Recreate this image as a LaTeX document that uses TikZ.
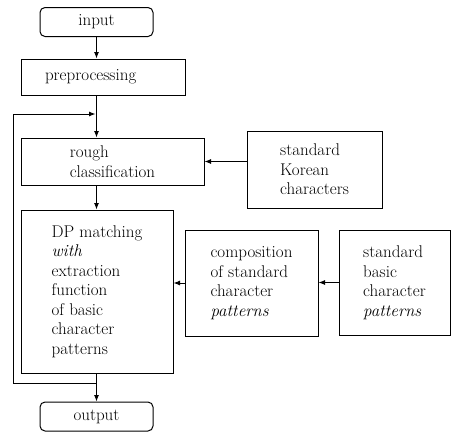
\documentclass[tikz,border=0pt]{standalone}
\usepackage{amsmath}
\usepackage{fontspec}
\usepackage{tikz}
\usetikzlibrary{arrows.meta}

\begin{document}
\begin{tikzpicture}[
    x=1pt, y=-1pt,
    >={Latex[length=6.5pt,width=5pt]},
    every node/.style={font=\fontsize{17}{19.5}\selectfont},
    box/.style={rectangle, draw, line width=1pt, align=left, inner ysep=2pt},
    term/.style={rectangle, draw, rounded corners=5pt, line width=1pt, minimum width=113pt, minimum height=29pt, align=center},
    flow/.style={->, line width=1pt}
]
    \useasboundingbox (0,0) rectangle (454,437);

    % Terminals
    \node[term] (input) at (96.5,22) {input};
    \node[term] (output) at (96.5,416.5) {output};

    % Main column
    \node[box, text width=116pt, inner xsep=24pt, minimum height=36pt] (prep) at (103,77) {preprocessing};
    \node[box, minimum width=183pt, minimum height=47pt] (rough) at (112.5,161.5) {rough\\classification};
    \node[box, minimum width=152pt, minimum height=163pt] (dp) at (97,291.5) {DP matching\\\textit{with}\\extraction\\function\\of basic\\character\\patterns};

    % Reference patterns
    \node[box, minimum width=135pt, minimum height=77pt] (korean) at (314.5,169.5) {standard\\Korean\\characters};
    \node[box, minimum width=133pt, minimum height=106pt] (comp) at (251.5,283) {composition\\of standard\\character\\\textit{patterns}};
    \node[box, minimum width=111pt, minimum height=105pt] (basic) at (394.5,282.5) {standard\\basic\\character\\\textit{patterns}};

    % Loop points
    \coordinate (merge) at (96.5,114);
    \coordinate (split) at (96.5,383);

    % Arrows
    \draw[flow] (input.south) -- (input.south |- prep.north);
    \draw[flow] (prep.south -| input.south) -- (rough.north -| input.south);
    \draw[flow] (rough.south -| input.south) -- (dp.north -| input.south);
    \draw[flow] (dp.south -| output.north) -- (output.north);
    \draw[flow, shorten >=1pt] (split) -- (13,383) |- (merge);
    \draw[flow] (korean.west |- rough.east) -- (rough.east);
    \draw[flow] (comp.west) -- (comp.west -| dp.east);
    \draw[flow] (basic.west) -- (basic.west -| comp.east);
\end{tikzpicture}
\end{document}
